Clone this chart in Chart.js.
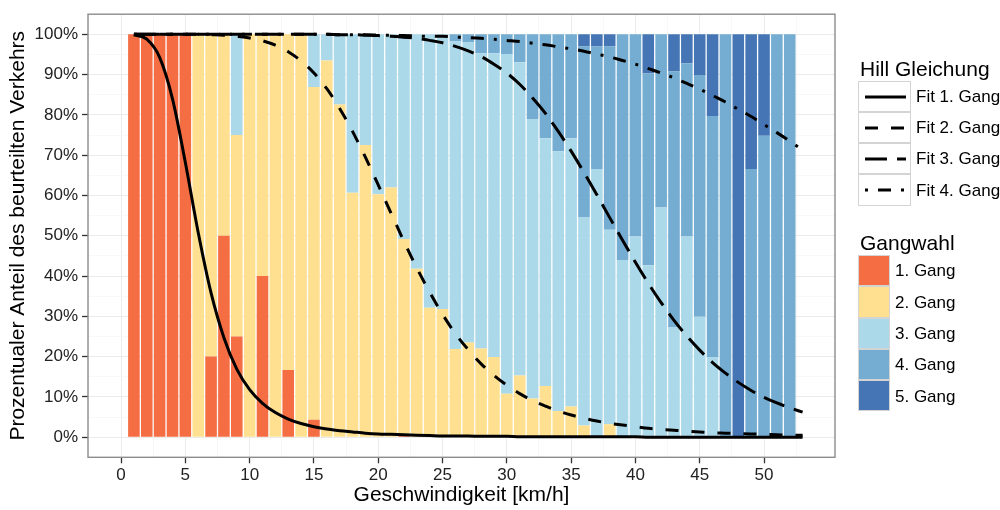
<!DOCTYPE html>
<html>
<head>
<meta charset="utf-8">
<title>Gangwahl</title>
<script src="https://cdn.jsdelivr.net/npm/chart.js@4.4.0/dist/chart.umd.min.js"></script>
<style>
  html, body { margin: 0; padding: 0; background: #fff; }
  #wrap { position: relative; width: 1000px; height: 510px; font-family: "Liberation Sans", Arial, sans-serif; color: #000; }
  #myChart { position: absolute; left: 0; top: 0; }
  .lg-title { position: absolute; font-size: 21px; line-height: 21px; white-space: nowrap; }
  .lg-key { position: absolute; box-sizing: border-box; border: 1px solid #d4d4d4; background: #fff; }
  .lg-key svg { position: absolute; left: 0; top: 0; }
  .lg-text { position: absolute; font-size: 17px; line-height: 17px; white-space: nowrap; }
</style>
</head>
<body>
<div id="wrap">
  <canvas id="myChart" width="1000" height="510"></canvas>
  <div id="legend"></div>
</div>
<script>
// Geschwindigkeit (km/h) der Balken
const speeds = [
  1, 2, 3, 4, 5, 6, 7, 8, 9, 10,
  11, 12, 13, 14, 15, 16, 17, 18, 19, 20,
  21, 22, 23, 24, 25, 26, 27, 28, 29, 30,
  31, 32, 33, 34, 35, 36, 37, 38, 39, 40,
  41, 42, 43, 44, 45, 46, 47, 48, 49, 50,
  51, 52,
];
// Anteil je Gang in %
const gang1 = [
  100, 100, 100, 100, 100, 0, 20, 50, 25, 0,
  40, 0, 16.7, 0, 4.3, 0, 0, 0, 0, 0,
  0, 0.6, 0, 0, 0, 0, 0, 0, 0, 0,
  0, 0, 0, 0, 0, 0, 0, 0, 0, 0,
  0, 0, 0, 0, 0, 0, 0, 0, 0, 0,
  0, 0,
];
const gang2 = [
  0, 0, 0, 0, 0, 100, 80, 50, 50, 100,
  60, 100, 83.3, 100, 82.6, 93.5, 82.6, 60.7, 72.5, 60.3,
  62.0, 48.6, 41.8, 32.1, 31.8, 21.9, 23.5, 22.0, 19.9, 10.8,
  15.3, 9.6, 12.7, 6.5, 7.6, 2.9, 0, 3.2, 0, 0,
  0, 0, 0, 0, 0, 0, 0, 0, 0, 0,
  0, 0,
];
const gang3 = [
  0, 0, 0, 0, 0, 0, 0, 0, 25, 0,
  0, 0, 0, 0, 13.1, 6.5, 17.4, 39.3, 27.5, 39.7,
  38.0, 49.5, 58.2, 67.9, 68.2, 76.3, 74.5, 73.3, 75.4, 84.3,
  77.8, 69.4, 61.5, 64.5, 66.6, 51.6, 66.6, 48.3, 44.0, 49.8,
  42.7, 57.0, 27.2, 49.8, 29.9, 19.8, 0, 0, 0, 0,
  0, 0,
];
const gang4 = [
  0, 0, 0, 0, 0, 0, 0, 0, 0, 0,
  0, 0, 0, 0, 0, 0, 0, 0, 0, 0,
  0, 1.3, 0, 0, 0, 1.8, 2.0, 4.7, 4.7, 4.9,
  6.9, 21.0, 25.8, 29.0, 25.8, 42.5, 30.4, 45.5, 56.0, 50.2,
  47.6, 43.0, 63.6, 43.0, 60.0, 59.9, 100, 0, 66.6, 74.8,
  100, 100,
];
const gang5 = [
  0, 0, 0, 0, 0, 0, 0, 0, 0, 0,
  0, 0, 0, 0, 0, 0, 0, 0, 0, 0,
  0, 0, 0, 0, 0, 0, 0, 0, 0, 0,
  0, 0, 0, 0, 0, 3.0, 3.0, 3.0, 0, 0,
  9.7, 0, 9.2, 7.2, 10.1, 20.3, 0, 100, 33.4, 25.2,
  0, 0,
];

const fitX = [
  1, 2, 3, 4, 5, 6, 7, 8, 9, 10,
  11, 12, 13, 14, 15, 16, 17, 18, 19, 20,
  21, 22, 23, 24, 25, 26, 27, 28, 29, 30,
  31, 32, 33, 34, 35, 36, 37, 38, 39, 40,
  41, 42, 43, 44, 45, 46, 47, 48, 49, 50,
  51, 52, 53,
];
const fit1 = [
  99.9, 98.8, 94.3, 84.0, 68.2, 50.8, 35.8, 24.7, 16.9, 11.8,
  8.4, 6.1, 4.5, 3.4, 2.6, 2.0, 1.6, 1.3, 1.0, 0.8,
  0.7, 0.6, 0.5, 0.4, 0.3, 0.3, 0.3, 0.2, 0.2, 0.2,
  0.1, 0.1, 0.1, 0.1, 0.1, 0.1, 0.1, 0.1, 0.1, 0.1,
  0, 0, 0, 0, 0, 0, 0, 0, 0, 0,
  0, 0, 0,
];
const fit2 = [
  100, 100, 100, 100, 100, 100, 99.9, 99.8, 99.5, 99.1,
  98.4, 97.3, 95.7, 93.4, 90.4, 86.5, 81.6, 75.9, 69.5, 62.6,
  55.6, 48.6, 42.0, 36.0, 30.5, 25.7, 21.7, 18.2, 15.3, 12.9,
  10.8, 9.1, 7.7, 6.5, 5.5, 4.7, 4.0, 3.4, 3.0, 2.6,
  2.2, 1.9, 1.7, 1.5, 1.3, 1.1, 1.0, 0.9, 0.8, 0.7,
  0.6, 0.5, 0.5,
];
const fit3 = [
  100, 100, 100, 100, 100, 100, 100, 100, 100, 100,
  100, 100, 100, 100, 100, 100, 99.9, 99.9, 99.8, 99.7,
  99.5, 99.3, 99.0, 98.5, 97.9, 97.0, 95.9, 94.5, 92.6, 90.4,
  87.6, 84.2, 80.4, 75.9, 71.0, 65.7, 60.2, 54.5, 48.9, 43.4,
  38.2, 33.4, 29.0, 25.1, 21.6, 18.5, 15.9, 13.6, 11.6, 9.9,
  8.5, 7.3, 6.2,
];
const fit4 = [
  100, 100, 100, 100, 100, 100, 100, 100, 100, 100,
  100, 100, 100, 100, 100, 100, 99.9, 99.9, 99.9, 99.8,
  99.8, 99.7, 99.6, 99.5, 99.5, 99.3, 99.2, 99.0, 98.8, 98.5,
  98.2, 97.8, 97.4, 96.9, 96.4, 95.8, 95.1, 94.4, 93.5, 92.6,
  91.5, 90.4, 89.2, 87.8, 86.4, 84.8, 83.2, 81.4, 79.6, 77.6,
  75.6, 73.5, 71.3,
];

const gearLabels = ["1. Gang", "2. Gang", "3. Gang", "4. Gang", "5. Gang"];
const fitLabels = ["Fit 1. Gang", "Fit 2. Gang", "Fit 3. Gang", "Fit 4. Gang"];
const xTicks = [0, 5, 10, 15, 20, 25, 30, 35, 40, 45, 50];
const xMinor = [-2.5, 2.5, 7.5, 12.5, 17.5, 22.5, 27.5, 32.5, 37.5, 42.5, 47.5, 52.5];
const yTicks = [0, 10, 20, 30, 40, 50, 60, 70, 80, 90, 100];
const yMinor = [5, 15, 25, 35, 45, 55, 65, 75, 85, 95];

const gearColors = ["#f46d43", "#fee090", "#abd9e9", "#74add1", "#4575b4"];
const fitDashes = [[], [13, 13], [22, 10], [3, 10, 13, 10]];

const FONT = "'Liberation Sans', Arial, sans-serif";
Chart.defaults.font.family = FONT;

const gears = [gang1, gang2, gang3, gang4, gang5];
const fits = [fit1, fit2, fit3, fit4];

const barSets = gears.map(function (vals, g) {
  return {
    type: "bar",
    label: gearLabels[g],
    data: speeds.map(function (x, i) { return { x: x, y: vals[i] }; }),
    backgroundColor: gearColors[g],
    borderWidth: 0,
    barPercentage: 0.9,
    categoryPercentage: 1,
    order: 2,
  };
});

const lineSets = fits.map(function (vals, f) {
  return {
    type: "line",
    label: fitLabels[f],
    data: fitX.map(function (x, i) { return { x: x, y: vals[i] }; }),
    borderColor: "#000",
    borderWidth: 3,
    borderDash: fitDashes[f],
    borderCapStyle: "butt",
    pointRadius: 0,
    fill: false,
    cubicInterpolationMode: "monotone",
    stack: "fit" + f, // eigene Gruppe -> nicht aufsummieren
    order: 1,
  };
});

function isMajor(v, step) {
  return Math.abs(v / step - Math.round(v / step)) < 1e-6;
}

// Rahmen um das Panel
const panelBorder = {
  id: "panelBorder",
  afterDraw(chart) {
    const { ctx, chartArea: a } = chart;
    ctx.save();
    ctx.strokeStyle = "#8c8c8c";
    ctx.lineWidth = 1.4;
    ctx.strokeRect(a.left, a.top, a.right - a.left, a.bottom - a.top);
    ctx.restore();
  },
};

const ctx = document.querySelector("#myChart");
const chart = new Chart(ctx, {
  type: "bar",
  data: { datasets: barSets.concat(lineSets) },
  options: {
    responsive: false,
    animation: false,
    devicePixelRatio: 1,
    layout: { padding: { left: 0, right: 165, top: 11.7, bottom: 0 } },
    plugins: { legend: { display: false }, tooltip: { enabled: false } },
    scales: {
      x: {
        type: "linear",
        min: -2.57,
        max: 55.52,
        offset: false,
        stacked: true,
        afterBuildTicks(axis) {
          axis.ticks = xTicks.concat(xMinor).sort(function (a, b) { return a - b; })
            .map(function (v) { return { value: v }; });
        },
        afterFit(axis) { axis.height = 52.7; },
        border: { display: false },
        grid: {
          offset: false,
          color: (c) => (c.tick && isMajor(c.tick.value, 5) ? "#ebebeb" : "#f5f5f5"),
          lineWidth: (c) => (c.tick && isMajor(c.tick.value, 5) ? 1 : 0.7),
          tickColor: (c) => (c.tick && isMajor(c.tick.value, 5) ? "#333" : "rgba(0,0,0,0)"),
          tickLength: 6,
          tickWidth: 1.3,
        },
        ticks: {
          autoSkip: false,
          maxRotation: 0,
          padding: 2,
          color: "#222",
          font: { size: 17 },
          callback: (v) => (isMajor(v, 5) && v >= 0 && v <= 50 ? String(v) : ""),
        },
        title: {
          display: true,
          text: "Geschwindigkeit [km/h]",
          color: "#000",
          font: { size: 21 },
          padding: { top: 0, bottom: 2 },
        },
      },
      y: {
        min: -5,
        max: 105,
        stacked: true,
        afterBuildTicks(axis) {
          axis.ticks = yTicks.concat(yMinor).sort(function (a, b) { return a - b; })
            .map(function (v) { return { value: v }; });
        },
        afterFit(axis) { axis.width = 88; },
        border: { display: false },
        grid: {
          color: (c) => (c.tick && isMajor(c.tick.value, 10) ? "#ebebeb" : "#f5f5f5"),
          lineWidth: (c) => (c.tick && isMajor(c.tick.value, 10) ? 1 : 0.7),
          tickColor: (c) => (c.tick && isMajor(c.tick.value, 10) ? "#333" : "rgba(0,0,0,0)"),
          tickLength: 6,
          tickWidth: 1.3,
        },
        ticks: {
          autoSkip: false,
          padding: 4,
          color: "#222",
          font: { size: 17 },
          callback: (v) => (isMajor(v, 10) ? v + "%" : ""),
        },
        title: {
          display: true,
          text: "Prozentualer Anteil des beurteilten Verkehrs",
          color: "#000",
          font: { size: 21 },
          padding: { top: 6, bottom: 0 },
        },
      },
    },
  },
  plugins: [panelBorder],
});

// Panel-Oberkante nachjustieren
const wantTop = 11.7;
if (Math.abs(chart.chartArea.top - wantTop) > 0.2) {
  chart.options.layout.padding.top += wantTop - chart.chartArea.top;
  chart.update();
}

// Legende rechts (zwei Gruppen)
const legend = document.querySelector("#legend");
function addDiv(cls, left, top, text) {
  const d = document.createElement("div");
  d.className = cls;
  d.style.left = left + "px";
  d.style.top = top + "px";
  if (text) d.textContent = text;
  legend.appendChild(d);
  return d;
}

addDiv("lg-title", 860, 58, "Hill Gleichung");
fitLabels.forEach(function (lab, i) {
  const top = 80.5 + i * 31.3;
  const key = addDiv("lg-key", 858, top);
  key.style.width = "52.5px";
  key.style.height = "31.3px";
  const dash = fitDashes[i].length ? ' stroke-dasharray="' + fitDashes[i].join(" ") + '"' : "";
  key.innerHTML =
    '<svg width="52" height="31"><line x1="6" y1="15" x2="47" y2="15" stroke="#000" stroke-width="3"' +
    dash + "/></svg>";
  addDiv("lg-text", 916, top + 15.6 - 8.3, lab);
});

addDiv("lg-title", 860, 232, "Gangwahl");
gearLabels.forEach(function (lab, i) {
  const top = 255 + i * 31.3;
  const key = addDiv("lg-key", 858, top);
  key.style.width = "32px";
  key.style.height = "31.3px";
  key.style.background = gearColors[i];
  addDiv("lg-text", 895, top + 15.6 - 8.3, lab);
});
</script>
</body>
</html>
